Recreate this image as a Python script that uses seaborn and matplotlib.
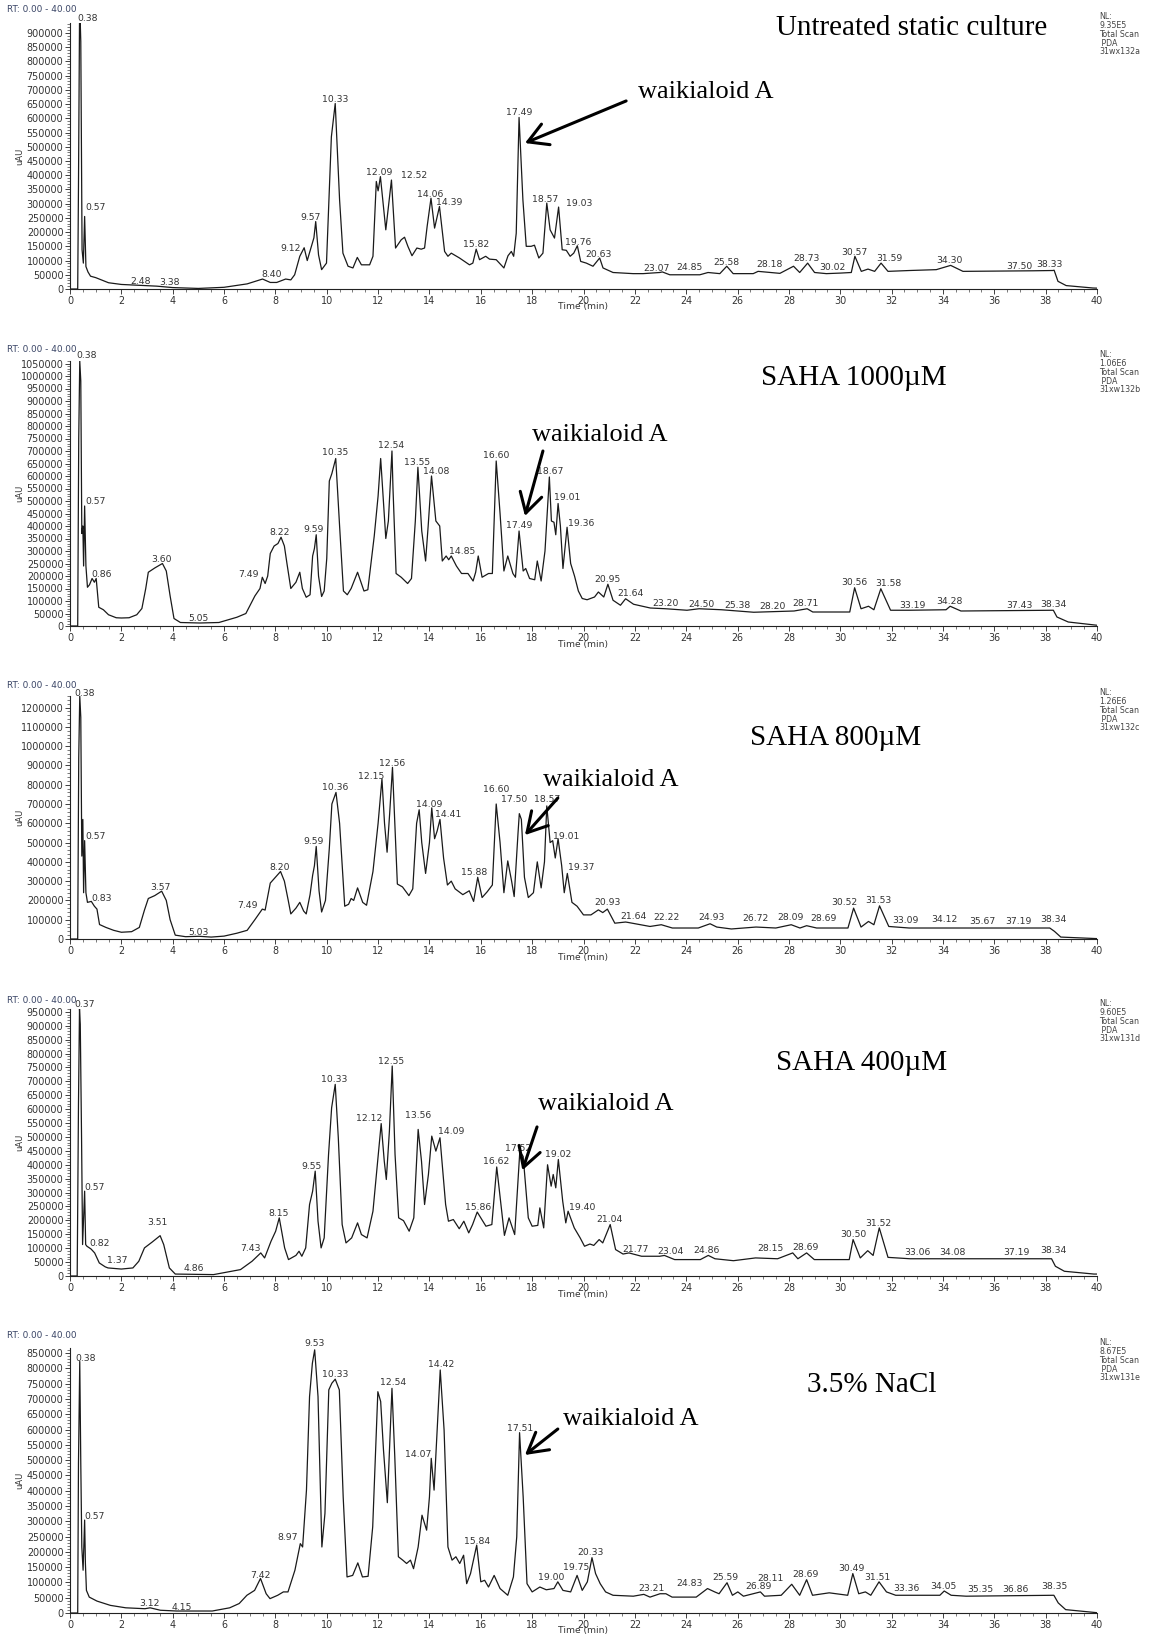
import matplotlib
matplotlib.use("Agg")
import matplotlib.pyplot as plt
import seaborn as sns
import pandas as pd
from matplotlib.ticker import MultipleLocator, FuncFormatter

# ---------------------------------------------------------------- data
titles = ["Untreated static culture", "SAHA 1000µM", "SAHA 800µM", "SAHA 400µM", "3.5% NaCl"]
nl_values = [9.35e5, 1.06e6, 1.26e6, 9.60e5, 8.67e5]
nl_text = ["9.35E5", "1.06E6", "1.26E6", "9.60E5", "8.67E5"]
sample_ids = ["31wx132a", "31xw132b", "31xw132c", "31xw131d", "31xw131e"]
y_major_step = [50000, 50000, 100000, 50000, 50000]
target_label = "waikialoid A"
range_text = "RT: 0.00 - 40.00"

# chromatogram traces: (time [min], signal [uAU])
p1_trace = [(0, 0), (0.30, 0), (0.33, 360000), (0.37, 935000), (0.40, 935000), (0.42, 870000),
            (0.47, 138000), (0.52, 91000), (0.57, 255000), (0.62, 79000), (0.70, 60000), (0.80, 45000),
            (1.0, 40000), (1.5, 22000), (2.0, 16000), (2.48, 14000), (3.0, 12000), (3.38, 10000),
            (4.0, 5000), (5.0, 2000), (6.0, 6000), (6.9, 18000), (7.5, 35000), (7.8, 23000),
            (8.05, 23000), (8.40, 35000), (8.6, 32000), (8.75, 50000), (8.95, 115000), (9.12, 145000),
            (9.24, 100000), (9.4, 150000), (9.5, 180000), (9.57, 237000), (9.68, 120000), (9.8, 68000),
            (9.99, 91000), (10.18, 535000), (10.33, 652000), (10.5, 313000), (10.63, 126000),
            (10.83, 80000), (11.02, 74000), (11.19, 111000), (11.35, 85000), (11.67, 85000),
            (11.80, 115000), (11.93, 378000), (12.00, 345000), (12.04, 366000), (12.09, 395000),
            (12.3, 208000), (12.52, 383000), (12.68, 144000), (12.90, 173000), (13.03, 182000),
            (13.16, 150000), (13.32, 117000), (13.51, 144000), (13.68, 140000), (13.81, 144000),
            (13.91, 220000), (14.06, 319000), (14.2, 214000), (14.39, 290000), (14.59, 132000),
            (14.72, 115000), (14.85, 126000), (15.17, 109000), (15.56, 85000), (15.69, 91000),
            (15.82, 140000), (15.95, 103000), (16.19, 115000), (16.34, 105000), (16.6, 103000),
            (16.9, 74000), (17.06, 117000), (17.19, 132000), (17.28, 115000), (17.38, 196000),
            (17.49, 603000), (17.64, 313000), (17.77, 150000), (17.96, 150000), (18.09, 154000),
            (18.26, 109000), (18.42, 126000), (18.57, 302000), (18.7, 208000), (18.87, 179000),
            (19.03, 288000), (19.17, 138000), (19.33, 136000), (19.48, 115000), (19.62, 126000),
            (19.76, 152000), (19.89, 97000), (20.11, 91000), (20.37, 80000), (20.63, 109000),
            (20.76, 74000), (21.15, 58000), (21.93, 54000), (22.32, 54000), (22.97, 58000),
            (23.07, 60000), (23.36, 50000), (24.53, 50000), (24.85, 58000), (25.31, 54000),
            (25.58, 80000), (25.83, 54000), (26.61, 54000), (26.8, 62000), (27.65, 55000),
            (28.18, 80000), (28.42, 58000), (28.73, 91000), (29.0, 58000), (29.46, 54000),
            (30.02, 56000), (30.43, 58000), (30.57, 115000), (30.82, 62000), (31.08, 70000),
            (31.34, 62000), (31.59, 91000), (31.86, 62000), (32.7, 65000), (33.74, 68000),
            (34.30, 83000), (34.78, 62000), (37.5, 64000), (38.28, 65000), (38.33, 66000),
            (38.48, 27000), (38.8, 12000), (39.84, 3500), (40.0, 3000)]

p2_trace = [(0, 0), (0.30, 0), (0.34, 750000), (0.38, 1060000), (0.42, 980000), (0.46, 370000),
            (0.50, 400000), (0.53, 240000), (0.57, 480000), (0.62, 240000), (0.68, 155000),
            (0.76, 165000), (0.86, 190000), (0.95, 175000), (1.02, 190000), (1.12, 75000), (1.3, 65000),
            (1.5, 45000), (1.8, 33000), (2.0, 32000), (2.3, 33000), (2.6, 45000), (2.8, 70000),
            (2.95, 150000), (3.05, 215000), (3.3, 232000), (3.60, 250000), (3.75, 220000),
            (3.9, 120000), (4.05, 30000), (4.3, 14000), (5.05, 12000), (5.8, 14000), (6.5, 35000),
            (6.85, 50000), (7.2, 120000), (7.4, 150000), (7.49, 195000), (7.6, 170000), (7.7, 200000),
            (7.8, 290000), (7.95, 320000), (8.1, 330000), (8.22, 355000), (8.35, 320000),
            (8.45, 250000), (8.6, 150000), (8.8, 175000), (8.95, 215000), (9.05, 150000),
            (9.2, 115000), (9.35, 125000), (9.45, 280000), (9.52, 310000), (9.59, 365000),
            (9.68, 200000), (9.8, 118000), (9.9, 140000), (10.0, 270000), (10.1, 580000),
            (10.2, 610000), (10.35, 670000), (10.5, 400000), (10.65, 140000), (10.8, 125000),
            (10.95, 150000), (11.2, 215000), (11.45, 140000), (11.6, 145000), (11.85, 360000),
            (12.0, 520000), (12.1, 670000), (12.3, 350000), (12.4, 420000), (12.54, 700000),
            (12.58, 550000), (12.7, 210000), (12.9, 195000), (13.15, 170000), (13.3, 190000),
            (13.45, 420000), (13.55, 635000), (13.7, 380000), (13.85, 260000), (13.95, 400000),
            (14.08, 600000), (14.25, 420000), (14.4, 400000), (14.5, 260000), (14.65, 280000),
            (14.75, 265000), (14.85, 280000), (15.05, 240000), (15.25, 210000), (15.5, 210000),
            (15.7, 180000), (15.8, 215000), (15.9, 280000), (16.05, 195000), (16.3, 210000),
            (16.45, 210000), (16.60, 660000), (16.75, 450000), (16.9, 220000), (17.05, 280000),
            (17.25, 210000), (17.35, 195000), (17.49, 380000), (17.65, 220000), (17.75, 230000),
            (17.9, 190000), (18.1, 185000), (18.2, 260000), (18.35, 180000), (18.5, 300000),
            (18.67, 596000), (18.75, 420000), (18.85, 415000), (18.92, 365000), (19.01, 490000),
            (19.1, 400000), (19.2, 230000), (19.36, 395000), (19.5, 250000), (19.65, 200000),
            (19.8, 140000), (19.95, 110000), (20.14, 105000), (20.43, 116000), (20.58, 136000),
            (20.79, 116000), (20.95, 167000), (21.15, 103000), (21.44, 83000), (21.64, 109000),
            (21.95, 87000), (22.6, 72000), (23.20, 69000), (24.03, 63000), (24.50, 69000),
            (25.38, 65000), (26.63, 55000), (28.20, 60000), (28.71, 69000), (28.93, 56000),
            (30.37, 56000), (30.56, 153000), (30.81, 69000), (31.1, 79000), (31.31, 65000),
            (31.58, 149000), (31.96, 63000), (32.68, 63000), (34.12, 65000), (34.28, 79000),
            (34.7, 60000), (38.3, 63000), (38.44, 36000), (38.88, 16000), (40, 3000)]

p3_trace = [(0, 0), (0.30, 0), (0.34, 940000), (0.38, 1260000), (0.42, 1150000), (0.46, 430000),
            (0.50, 620000), (0.53, 240000), (0.57, 510000), (0.62, 240000), (0.68, 190000),
            (0.83, 195000), (0.95, 170000), (1.05, 155000), (1.15, 75000), (1.4, 60000), (1.7, 45000),
            (2.0, 35000), (2.4, 38000), (2.7, 60000), (2.9, 150000), (3.05, 210000), (3.3, 225000),
            (3.57, 248000), (3.75, 200000), (3.9, 100000), (4.1, 20000), (4.5, 12000), (5.03, 14000),
            (5.5, 10000), (6.0, 15000), (6.5, 30000), (6.9, 45000), (7.2, 100000), (7.49, 155000),
            (7.6, 150000), (7.8, 290000), (8.0, 320000), (8.20, 350000), (8.35, 300000),
            (8.5, 200000), (8.6, 130000), (8.8, 160000), (8.95, 190000), (9.1, 145000),
            (9.2, 130000), (9.35, 230000), (9.45, 330000), (9.52, 380000), (9.59, 480000),
            (9.7, 250000), (9.8, 140000), (9.95, 200000), (10.1, 470000), (10.2, 700000),
            (10.36, 760000), (10.5, 600000), (10.7, 170000), (10.85, 180000), (10.95, 210000),
            (11.05, 200000), (11.2, 265000), (11.4, 190000), (11.55, 175000), (11.8, 350000),
            (12.0, 600000), (12.15, 830000), (12.25, 600000), (12.35, 450000), (12.45, 650000),
            (12.56, 890000), (12.65, 600000), (12.75, 285000), (12.95, 270000), (13.2, 225000),
            (13.35, 260000), (13.5, 600000), (13.6, 670000), (13.7, 500000), (13.85, 340000),
            (14.0, 500000), (14.09, 680000), (14.2, 520000), (14.3, 560000), (14.41, 620000),
            (14.55, 420000), (14.7, 280000), (14.85, 300000), (15.0, 260000), (15.3, 230000),
            (15.55, 250000), (15.72, 195000), (15.88, 320000), (16.05, 215000), (16.25, 245000),
            (16.45, 280000), (16.60, 700000), (16.75, 500000), (16.9, 240000), (17.05, 405000),
            (17.2, 300000), (17.3, 220000), (17.45, 550000), (17.50, 650000), (17.58, 620000),
            (17.7, 320000), (17.85, 215000), (18.05, 240000), (18.2, 400000), (18.35, 265000),
            (18.48, 400000), (18.57, 690000), (18.7, 500000), (18.8, 510000), (18.9, 420000),
            (19.01, 520000), (19.15, 380000), (19.25, 240000), (19.37, 340000), (19.55, 190000),
            (19.75, 170000), (20.0, 125000), (20.29, 125000), (20.58, 151000), (20.75, 137000),
            (20.93, 155000), (21.22, 82000), (21.64, 88000), (21.73, 86000), (22.59, 65000),
            (23.03, 74000), (23.46, 57000), (24.47, 57000), (24.93, 79000), (25.19, 62000),
            (25.76, 52000), (26.72, 62000), (27.49, 57000), (28.09, 74000), (28.43, 57000),
            (28.69, 69000), (29.08, 57000), (30.3, 57000), (30.52, 160000), (30.81, 62000),
            (31.1, 91000), (31.31, 74000), (31.53, 172000), (31.89, 65000), (32.68, 57000),
            (38.16, 57000), (38.34, 40000), (38.59, 10000), (40, 2000)]

p4_trace = [(0, 0), (0.28, 0), (0.33, 617000), (0.37, 960000), (0.40, 905000), (0.45, 497000),
            (0.49, 113000), (0.57, 305000), (0.61, 113000), (0.66, 107000), (0.82, 97000),
            (0.96, 83000), (1.14, 47000), (1.37, 33000), (1.48, 29000), (2.0, 25000), (2.45, 29000),
            (2.68, 53000), (2.9, 101000), (3.2, 122000), (3.51, 145000), (3.65, 113000),
            (3.87, 29000), (4.1, 7000), (4.86, 6000), (5.59, 5000), (6.64, 23000), (7.09, 53000),
            (7.43, 83000), (7.58, 65000), (7.83, 125000), (8.01, 161000), (8.15, 209000),
            (8.36, 101000), (8.51, 59000), (8.8, 74000), (8.92, 89000), (9.03, 71000),
            (9.18, 101000), (9.33, 257000), (9.45, 305000), (9.55, 377000), (9.66, 197000),
            (9.78, 101000), (9.9, 137000), (10.07, 437000), (10.19, 605000), (10.33, 689000),
            (10.45, 497000), (10.6, 185000), (10.75, 119000), (10.97, 137000), (11.2, 191000),
            (11.35, 149000), (11.57, 137000), (11.8, 233000), (12.02, 449000), (12.12, 548000),
            (12.24, 413000), (12.32, 347000), (12.44, 521000), (12.55, 755000), (12.66, 437000),
            (12.8, 209000), (12.99, 199000), (13.21, 161000), (13.39, 209000), (13.56, 527000),
            (13.69, 413000), (13.81, 257000), (13.96, 365000), (14.09, 503000), (14.25, 449000),
            (14.41, 497000), (14.63, 257000), (14.74, 197000), (14.93, 203000), (15.16, 170000),
            (15.34, 197000), (15.53, 155000), (15.68, 185000), (15.86, 230000), (16.2, 179000),
            (16.43, 185000), (16.62, 392000), (16.92, 146000), (17.1, 209000), (17.32, 149000),
            (17.52, 449000), (17.65, 430000), (17.85, 209000), (18.0, 179000), (18.22, 182000),
            (18.3, 245000), (18.45, 173000), (18.6, 400000), (18.74, 323000), (18.82, 365000),
            (18.92, 317000), (19.02, 419000), (19.19, 269000), (19.31, 191000), (19.40, 233000),
            (19.64, 173000), (19.87, 137000), (20.04, 107000), (20.25, 115000), (20.4, 110000),
            (20.61, 131000), (20.75, 119000), (21.04, 185000), (21.25, 95000), (21.54, 79000),
            (21.77, 83000), (22.26, 71000), (22.97, 71000), (23.15, 74000), (23.55, 59000),
            (24.55, 59000), (24.86, 74000), (25.12, 62000), (25.84, 55000), (26.7, 65000),
            (27.56, 62000), (28.15, 83000), (28.35, 62000), (28.69, 83000), (28.99, 59000),
            (30.35, 59000), (30.50, 131000), (30.78, 65000), (31.07, 91000), (31.28, 74000),
            (31.52, 173000), (31.86, 67000), (32.72, 62000), (38.23, 62000), (38.38, 35000),
            (38.73, 17000), (39.88, 7000), (40, 7000)]

p5_trace = [(0, 0), (0.30, 0), (0.33, 489000), (0.38, 823000), (0.42, 489000), (0.46, 216000),
            (0.51, 140000), (0.57, 304000), (0.60, 162000), (0.64, 74000), (0.75, 52000),
            (1.05, 39000), (1.57, 25000), (2.17, 17000), (2.92, 14000), (3.12, 17000), (3.52, 9000),
            (4.15, 6500), (5.54, 6500), (6.22, 17000), (6.59, 31000), (6.89, 58000), (7.19, 74000),
            (7.42, 113000), (7.64, 63000), (7.79, 47000), (8.09, 58000), (8.31, 69000),
            (8.49, 69000), (8.76, 140000), (8.97, 227000), (9.06, 216000), (9.21, 402000),
            (9.33, 708000), (9.44, 817000), (9.53, 861000), (9.66, 708000), (9.81, 216000),
            (9.93, 326000), (10.08, 730000), (10.2, 752000), (10.33, 765000), (10.49, 730000),
            (10.64, 380000), (10.79, 118000), (11.01, 123000), (11.21, 164000), (11.39, 118000),
            (11.61, 120000), (11.79, 282000), (11.99, 724000), (12.1, 692000), (12.21, 533000),
            (12.36, 361000), (12.54, 735000), (12.65, 511000), (12.79, 184000), (12.96, 173000),
            (13.11, 162000), (13.26, 173000), (13.38, 145000), (13.56, 216000), (13.71, 320000),
            (13.89, 271000), (14.0, 380000), (14.07, 506000), (14.18, 402000), (14.3, 599000),
            (14.42, 795000), (14.57, 599000), (14.72, 216000), (14.88, 173000), (15.03, 184000),
            (15.18, 162000), (15.33, 189000), (15.45, 96000), (15.6, 129000), (15.84, 222000),
            (16.0, 102000), (16.15, 107000), (16.3, 85000), (16.52, 123000), (16.75, 80000),
            (17.05, 58000), (17.27, 118000), (17.4, 249000), (17.51, 590000), (17.65, 380000),
            (17.8, 96000), (18.0, 69000), (18.3, 85000), (18.55, 76000), (18.85, 80000),
            (19.00, 102000), (19.2, 74000), (19.5, 69000), (19.75, 123000), (19.95, 74000),
            (20.15, 102000), (20.33, 181000), (20.47, 129000), (20.65, 96000), (20.86, 69000),
            (21.15, 58000), (21.94, 55000), (22.35, 61000), (22.59, 52000), (22.98, 63000),
            (23.21, 63000), (23.45, 52000), (24.39, 52000), (24.83, 80000), (25.11, 69000),
            (25.28, 63000), (25.59, 99000), (25.8, 58000), (26.01, 69000), (26.23, 55000),
            (26.89, 69000), (27.05, 55000), (27.7, 58000), (28.11, 94000), (28.42, 58000),
            (28.69, 109000), (28.92, 58000), (29.57, 66000), (30.29, 58000), (30.49, 129000),
            (30.72, 63000), (30.98, 69000), (31.19, 58000), (31.51, 102000), (31.8, 69000),
            (32.16, 58000), (33.88, 58000), (34.05, 72000), (34.32, 58000), (34.9, 55000),
            (38.32, 58000), (38.49, 33000), (38.78, 11000), (40, 1000)]

# peak annotations: (label, time of label centre, signal at label baseline)
p1_peaks = [("0.38", 0.67, 942000), ("0.57", 1.0, 276000), ("2.48", 2.75, 18700), ("3.38", 3.89, 15000),
            ("8.40", 7.85, 41000), ("9.12", 8.6, 135000), ("9.57", 9.38, 241000), ("10.33", 10.34, 658000),
            ("12.09", 12.06, 401000), ("12.52", 13.42, 389000), ("14.06", 14.04, 325000),
            ("14.39", 14.78, 296000), ("15.82", 15.82, 147000), ("17.49", 17.49, 611000),
            ("18.57", 18.51, 307000), ("19.03", 19.85, 293000), ("19.76", 19.78, 153000),
            ("20.63", 20.6, 111000), ("23.07", 22.84, 65000), ("24.85", 24.13, 68000),
            ("25.58", 25.56, 85000), ("28.18", 27.25, 79000), ("28.73", 28.68, 97000),
            ("30.02", 29.69, 68000), ("30.57", 30.56, 120000), ("31.59", 31.93, 97000),
            ("34.30", 34.24, 91000), ("37.50", 36.96, 70000), ("38.33", 38.16, 76000)]

p2_peaks = [("0.38", 0.65, 1070000), ("0.57", 0.98, 490000), ("0.86", 1.25, 196000), ("3.60", 3.55, 256000),
            ("5.05", 5.01, 19000), ("7.49", 6.94, 196000), ("8.22", 8.18, 365000), ("9.59", 9.5, 376000),
            ("10.35", 10.33, 683000), ("12.54", 12.51, 710000), ("13.55", 13.52, 643000),
            ("14.08", 14.28, 607000), ("14.85", 15.26, 289000), ("16.60", 16.61, 670000),
            ("17.49", 17.48, 392000), ("18.67", 18.72, 606000), ("19.01", 19.37, 503000),
            ("19.36", 19.92, 399000), ("20.95", 20.94, 176000), ("21.64", 21.84, 120000),
            ("23.20", 23.21, 80000), ("24.50", 24.58, 76000), ("25.38", 26.0, 73000),
            ("28.20", 27.35, 69000), ("28.71", 28.65, 80000), ("30.56", 30.55, 163000),
            ("31.58", 31.89, 159000), ("33.19", 32.82, 73000), ("34.28", 34.24, 87000),
            ("37.43", 36.96, 72000), ("38.34", 38.3, 76000)]

p3_peaks = [("0.38", 0.57, 1262000), ("0.57", 0.98, 521000), ("0.83", 1.25, 199000), ("3.57", 3.51, 254000),
            ("5.03", 5.02, 22000), ("7.49", 6.93, 160000), ("8.20", 8.18, 358000), ("9.59", 9.49, 495000),
            ("10.36", 10.33, 770000), ("12.15", 11.72, 830000), ("12.56", 12.55, 899000),
            ("14.09", 13.98, 684000), ("14.41", 14.73, 633000), ("15.88", 15.75, 332000),
            ("16.60", 16.61, 762000), ("17.50", 17.29, 710000), ("18.57", 18.57, 710000),
            ("19.01", 19.32, 521000), ("19.37", 19.92, 358000), ("20.93", 20.94, 177000),
            ("21.64", 21.95, 103000), ("22.22", 23.24, 96000), ("24.93", 24.97, 96000),
            ("26.72", 26.7, 91000), ("28.09", 28.07, 96000), ("28.69", 29.34, 91000),
            ("30.52", 30.16, 177000), ("31.53", 31.5, 186000), ("33.09", 32.54, 83000),
            ("34.12", 34.05, 86000), ("35.67", 35.52, 79000), ("37.19", 36.93, 79000),
            ("38.34", 38.3, 86000)]

p4_peaks = [("0.37", 0.58, 967000), ("0.57", 0.96, 311000), ("0.82", 1.14, 107000), ("1.37", 1.85, 47000),
            ("3.51", 3.42, 185000), ("4.86", 4.84, 17000), ("7.43", 7.01, 89000), ("8.15", 8.13, 215000),
            ("9.55", 9.4, 386000), ("10.33", 10.3, 698000), ("12.12", 11.64, 557000),
            ("12.55", 12.5, 764000), ("13.56", 13.54, 569000), ("14.09", 14.86, 511000),
            ("15.86", 15.9, 239000), ("16.62", 16.61, 401000), ("17.52", 17.47, 451000),
            ("19.02", 19.01, 428000), ("19.40", 19.94, 239000), ("21.04", 21.0, 193000),
            ("21.77", 22.04, 86000), ("23.04", 23.4, 79000), ("24.86", 24.79, 83000),
            ("28.15", 27.27, 89000), ("28.69", 28.63, 92000), ("30.50", 30.5, 140000),
            ("31.52", 31.5, 181000), ("33.06", 33.0, 77000), ("34.08", 34.36, 77000),
            ("37.19", 36.87, 77000), ("38.34", 38.3, 83000)]

p5_peaks = [("0.38", 0.6, 826000), ("0.57", 0.97, 309000), ("3.12", 3.1, 22000), ("4.15", 4.34, 11000),
            ("7.42", 7.42, 116000), ("8.97", 8.46, 240000), ("9.53", 9.54, 874000),
            ("10.33", 10.34, 773000), ("12.54", 12.58, 746000), ("14.07", 13.56, 511000),
            ("14.42", 14.46, 804000), ("15.84", 15.85, 227000), ("17.51", 17.55, 596000),
            ("19.00", 18.76, 107000), ("19.75", 19.7, 142000), ("20.33", 20.29, 189000),
            ("23.21", 22.66, 72000), ("24.83", 24.14, 88000), ("25.59", 25.54, 107000),
            ("26.89", 26.83, 80000), ("28.11", 27.27, 105000), ("28.69", 28.66, 118000),
            ("30.49", 30.43, 138000), ("31.51", 31.44, 109000), ("33.36", 32.59, 72000),
            ("34.05", 34.0, 80000), ("35.35", 35.44, 69000), ("36.86", 36.83, 69000),
            ("38.35", 38.35, 80000)]

traces = [p1_trace, p2_trace, p3_trace, p4_trace, p5_trace]
peaks = [p1_peaks, p2_peaks, p3_peaks, p4_peaks, p5_peaks]

# ---------------------------------------------------------------- layout (pixels, from top-left)
W, H = 1156, 1636
AX_L, AX_R = 70, 1097
ax_top = [23, 361, 696, 1009, 1348]
ax_bot = [289, 626, 939, 1276, 1613]
rt_y = [10, 349, 686, 1000, 1336]
nl_top = [12, 350, 688, 999, 1338]
title_xy = [(912, 28), (854, 378), (836, 738), (862, 1063), (872, 1385)]
# arrow/label placement in each panel's data coordinates
arrow_tip = [(17.72, 513000), (17.72, 440000), (17.72, 539000), (17.62, 380000), (17.72, 517000)]
arrow_tail = [(21.66, 661000), (18.42, 700000), (19.0, 731000), (18.19, 536000), (19.0, 602000)]
label_pos = [(22.12, 692000), (17.99, 764000), (18.42, 824000), (18.23, 618000), (19.2, 635000)]

sns.set_theme(style="ticks")
plt.rcParams["font.family"] = ["DejaVu Sans"]

fig = plt.figure(figsize=(W / 100, H / 100), dpi=100)
fig.patch.set_facecolor("white")

def fx(x):
    return x / W

def fy(y):
    return 1 - y / H

TXT = "#333333"
SMALL = 6.9
SERIF = ["Liberation Serif", "DejaVu Serif"]

for i in range(5):
    top, bot = ax_top[i], ax_bot[i]
    ax = fig.add_axes([fx(AX_L), fy(bot), (AX_R - AX_L) / W, (bot - top) / H])
    df = pd.DataFrame(traces[i], columns=["time", "uAU"])
    sns.lineplot(data=df, x="time", y="uAU", ax=ax, color="#1a1a1a", lw=0.9,
                 estimator=None, sort=False, legend=False)
    ax.set_xlim(0, 40)
    ax.set_ylim(0, nl_values[i])
    ax.set_xlabel("")
    ax.set_ylabel("")
    ax.set_facecolor("white")
    ax.xaxis.set_major_locator(MultipleLocator(2))
    ax.xaxis.set_minor_locator(MultipleLocator(0.5))
    step = y_major_step[i]
    ax.yaxis.set_major_locator(MultipleLocator(step))
    ax.yaxis.set_minor_locator(MultipleLocator(step / 5))
    ax.yaxis.set_major_formatter(FuncFormatter(lambda v, p: f"{int(round(v))}"))
    ax.xaxis.set_major_formatter(FuncFormatter(lambda v, p: f"{int(round(v))}"))
    ax.tick_params(axis="both", which="major", direction="out", length=3.5, width=0.6,
                   colors="#222222", labelsize=SMALL, labelcolor=TXT, pad=1.2)
    ax.tick_params(axis="both", which="minor", direction="out", length=2, width=0.5, colors="#444444")
    for s in ["top", "right"]:
        ax.spines[s].set_visible(False)
    for s in ["left", "bottom"]:
        ax.spines[s].set_linewidth(0.8)
        ax.spines[s].set_color("#222222")

    # peak labels
    for txt, t, v in peaks[i]:
        ax.text(t, v, txt, ha="center", va="baseline", fontsize=SMALL - 0.2, color=TXT, clip_on=False)

    # waikialoid arrow + label
    ax.annotate("", xy=arrow_tip[i], xytext=arrow_tail[i], xycoords="data", textcoords="data",
                arrowprops=dict(arrowstyle="->,head_length=0.7,head_width=0.4", lw=2.2,
                                color="black", shrinkA=0, shrinkB=0, mutation_scale=20),
                annotation_clip=False)
    ax.text(label_pos[i][0], label_pos[i][1], target_label, ha="left", va="center",
            fontsize=19, family=SERIF, color="black", clip_on=False)

    # header texts
    fig.text(fx(7), fy(rt_y[i]), range_text, ha="left", va="center", fontsize=6.4, color="#3a4566")
    fig.text(fx(20), fy((top + bot) / 2), "uAU", ha="center", va="center", rotation=90,
             fontsize=6, color=TXT)
    fig.text(fx((AX_L + AX_R) / 2), fy(bot + 18), "Time (min)", ha="center", va="center",
             fontsize=6.6, color=TXT)
    fig.text(fx(1099), fy(nl_top[i]), f"NL:\n{nl_text[i]}\nTotal Scan\n PDA\n{sample_ids[i]}",
             ha="left", va="top", fontsize=5.7, color="#444444", linespacing=0.98)
    fig.text(fx(title_xy[i][0]), fy(title_xy[i][1]), titles[i], ha="center", va="center",
             fontsize=21, family=SERIF, color="black")

fig.savefig("out.png", dpi=100, facecolor="white")
